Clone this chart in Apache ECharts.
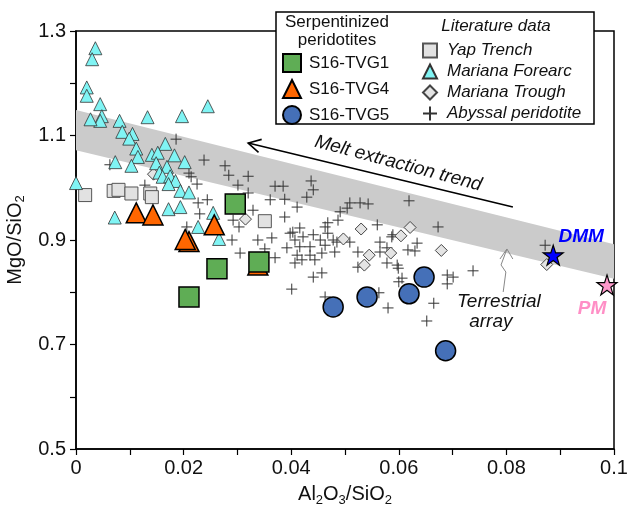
<!DOCTYPE html>
<html>
<head>
<meta charset="utf-8">
<script src="https://cdn.jsdelivr.net/npm/echarts@6/dist/echarts.min.js"></script>
<style>
  html, body { margin: 0; padding: 0; background: #fff; }
  #chart { width: 627px; height: 509px; }
</style>
</head>
<body>
<div id="chart"></div>
<script>
// data (Al2O3/SiO2, MgO/SiO2)
var tvg1 = [[0.0296, 0.969], [0.0340, 0.858], [0.0262, 0.845], [0.0210, 0.791]];
var tvg4 = [[0.0112, 0.952], [0.0143, 0.948], [0.0257, 0.929], [0.0210, 0.897], [0.0203, 0.901], [0.0338, 0.852]];
var tvg5 = [[0.0478, 0.772], [0.0541, 0.791], [0.0619, 0.797], [0.0647, 0.829], [0.0687, 0.688]];

var yapTrench = [[0.0017, 0.986], [0.0070, 0.994], [0.0079, 0.996], [0.0103, 0.989], [0.0138, 0.989], [0.0141, 0.982], [0.0351, 0.936]];

var marianaForearc = [
  [0.0036, 1.267], [0.0030, 1.246], [0.0020, 1.192], [0.0020, 1.176], [0.0045, 1.160],
  [0.0048, 1.137], [0.0045, 1.128], [0.0027, 1.131], [0.0081, 1.128], [0.0133, 1.135],
  [0.0197, 1.137], [0.0245, 1.156], [0.0086, 1.107], [0.0105, 1.103], [0.0099, 1.094],
  [0.0112, 1.075], [0.0115, 1.059], [0.0073, 1.049], [0.0103, 1.042], [0.0166, 1.084],
  [0.0141, 1.063], [0.0152, 1.067], [0.0183, 1.062], [0.0202, 1.049], [0.0149, 1.047],
  [0.0169, 1.040], [0.0155, 1.029], [0.0161, 1.021], [0.0175, 1.022], [0.0185, 1.013],
  [0.0172, 1.007], [0.0194, 0.994], [0.0210, 0.991], [0.0000, 1.009], [0.0072, 0.943],
  [0.0172, 0.959], [0.0194, 0.963], [0.0227, 0.925], [0.0255, 0.952], [0.0266, 0.902]
];

var marianaTrough = [
  [0.0144, 1.026], [0.0315, 0.940], [0.0497, 0.902], [0.0530, 0.921], [0.0604, 0.908],
  [0.0621, 0.924], [0.0545, 0.871], [0.0585, 0.875], [0.0536, 0.852], [0.0679, 0.880],
  [0.0875, 0.853]
];

var abyssal = [
  [0.0063, 1.044], [0.0128, 1.005], [0.0186, 1.093], [0.0238, 1.053], [0.0210, 1.028],
  [0.0214, 1.021], [0.0225, 1.007], [0.0227, 0.971], [0.0244, 0.977], [0.0230, 0.950],
  [0.0206, 0.925], [0.0277, 1.042], [0.0284, 1.024], [0.0320, 1.022], [0.0301, 1.005],
  [0.0320, 0.990], [0.0370, 1.003], [0.0385, 1.003], [0.0437, 1.013], [0.0441, 0.996],
  [0.0429, 0.982], [0.0361, 0.977], [0.0388, 0.978], [0.0411, 0.963], [0.0329, 0.957],
  [0.0292, 0.938], [0.0388, 0.944], [0.0303, 0.925], [0.0290, 0.900], [0.0338, 0.900],
  [0.0364, 0.904], [0.0403, 0.915], [0.0416, 0.923], [0.0422, 0.906], [0.0407, 0.900],
  [0.0441, 0.910], [0.0463, 0.925], [0.0468, 0.913], [0.0305, 0.875], [0.0351, 0.883],
  [0.0370, 0.866], [0.0392, 0.885], [0.0416, 0.887], [0.0411, 0.871], [0.0420, 0.862],
  [0.0435, 0.871], [0.0444, 0.862], [0.0457, 0.875], [0.0481, 0.877], [0.0478, 0.900],
  [0.0463, 0.890], [0.0441, 0.829], [0.0457, 0.837], [0.0401, 0.806], [0.0463, 0.791],
  [0.0491, 0.954], [0.0504, 0.961], [0.0487, 0.938], [0.0468, 0.933], [0.0509, 0.971],
  [0.0528, 0.971], [0.0543, 0.969], [0.0619, 0.975], [0.0560, 0.929], [0.0589, 0.910],
  [0.0673, 0.925], [0.0509, 0.896], [0.0524, 0.877], [0.0565, 0.877], [0.0578, 0.885],
  [0.0617, 0.881], [0.0630, 0.879], [0.0578, 0.856], [0.0599, 0.846], [0.0600, 0.820],
  [0.0563, 0.799], [0.0580, 0.770], [0.0690, 0.833], [0.0701, 0.829], [0.0690, 0.816],
  [0.0738, 0.841], [0.0665, 0.779], [0.0652, 0.745], [0.0524, 0.848], [0.0606, 0.827],
  [0.0872, 0.890], [0.0597, 0.852], [0.0407, 0.856], [0.0398, 0.913], [0.0454, 0.900],
  [0.0485, 0.896], [0.0565, 0.896], [0.0587, 0.906], [0.0634, 0.894], [0.0435, 0.887]
];

var dmm = [[0.0887, 0.871]];
var pm = [[0.0987, 0.814]];

// grey band (terrestrial array), edges at x = 0 and x = 0.1
var bandX = [0, 0.1];
var bandTop = [1.149, 0.892];
var bandBottom = [1.072, 0.826];

// annotations
var meltArrow = [[0.0320, 1.0856], [0.0812, 0.9632]];
var meltLabel = [0.0599, 1.0464];
var terrArrow = [[0.0794, 0.8005], [0.0799, 0.8387], [0.0790, 0.8522], [0.0801, 0.8828]];
var terrHead = [[0.0788, 0.8636], [0.0801, 0.8828], [0.0812, 0.8636]];
var terrLabel1 = [0.0786, 0.7813];
var terrLabel2 = [0.0771, 0.7430];

var FONT = 'Liberation Sans, Arial, sans-serif';
var plusSymbol = 'path://M0,5L10,5M5,0L5,10';
var starSymbol = 'path://M50,2L61.8,38.2L99,38.2L69,60.5L80.3,96.5L50,74.3L19.7,96.5L31,60.5L1,38.2L38.2,38.2Z';

var chart = echarts.init(document.getElementById('chart'));

function renderBand(params, api) {
  var pts = [
    api.coord([bandX[0], bandTop[0]]),
    api.coord([bandX[1], bandTop[1]]),
    api.coord([bandX[1], bandBottom[1]]),
    api.coord([bandX[0], bandBottom[0]])
  ];
  return { type: 'polygon', shape: { points: pts }, style: { fill: '#cbcbcb' } };
}

function renderNotes(params, api) {
  var a = api.coord(meltArrow[0]);
  var b = api.coord(meltArrow[1]);
  var dx = b[0] - a[0], dy = b[1] - a[1];
  var len = Math.sqrt(dx * dx + dy * dy);
  var ux = dx / len, uy = dy / len;
  function side(t) {
    return [a[0] + 14 * (ux * Math.cos(t) - uy * Math.sin(t)),
            a[1] + 14 * (ux * Math.sin(t) + uy * Math.cos(t))];
  }
  var t = api.coord(meltLabel);
  var tl1 = api.coord(terrLabel1);
  var tl2 = api.coord(terrLabel2);
  var tPts = terrArrow.map(function (p) { return api.coord(p); });
  var hPts = terrHead.map(function (p) { return api.coord(p); });
  var txt = { fontFamily: FONT, fontSize: 19, fontStyle: 'italic', fill: '#111', align: 'center', verticalAlign: 'middle' };
  return {
    type: 'group',
    children: [
      { type: 'line', shape: { x1: a[0], y1: a[1], x2: b[0], y2: b[1] }, style: { stroke: '#000', lineWidth: 1.6 } },
      { type: 'polyline', shape: { points: [side(0.5), a, side(-0.5)] }, style: { stroke: '#000', lineWidth: 1.6, fill: null } },
      { type: 'text', x: t[0], y: t[1], rotation: -0.26, style: Object.assign({ text: 'Melt extraction trend' }, txt) },
      { type: 'polyline', shape: { points: tPts }, style: { stroke: '#888', lineWidth: 1, fill: null } },
      { type: 'polyline', shape: { points: hPts }, style: { stroke: '#888', lineWidth: 1, fill: null } },
      { type: 'text', x: tl1[0], y: tl1[1], style: Object.assign({ text: 'Terrestrial' }, txt) },
      { type: 'text', x: tl2[0], y: tl2[1], style: Object.assign({ text: 'array' }, txt) }
    ]
  };
}

var option = {
  animation: false,
  backgroundColor: '#fff',
  textStyle: { fontFamily: FONT },
  grid: {
    left: 76, right: 13, top: 31, bottom: 60, containLabel: false, outerBoundsMode: 'none',
    show: true, borderColor: '#000', borderWidth: 1.5
  },
  xAxis: {
    type: 'value', min: 0, max: 0.1, interval: 0.01,
    name: 'Al{s|2}O{s|3}/SiO{s|2}', nameLocation: 'middle', nameGap: 33,
    nameTextStyle: { fontFamily: FONT, fontSize: 20, color: '#111', lineHeight: 24,
      rich: { s: { fontFamily: FONT, fontSize: 13, lineHeight: 12, verticalAlign: 'bottom', color: '#111' } } },
    axisLine: { lineStyle: { color: '#000', width: 1.5 } },
    axisTick: { inside: false, length: 6, lineStyle: { color: '#000', width: 1.2 } },
    splitLine: { show: false },
    axisLabel: {
      interval: 0, margin: 9, fontFamily: FONT, fontSize: 20, color: '#111',
      formatter: function (v) {
        var n = Math.round(v * 100);
        if (n % 2) return '';
        return n === 0 ? '0' : String(parseFloat((n / 100).toFixed(2)));
      }
    }
  },
  yAxis: {
    type: 'value', min: 0.5, max: 1.3, interval: 0.1,
    name: 'MgO/SiO{s|2}', nameLocation: 'middle', nameGap: 40, nameRotate: 90,
    nameTextStyle: { fontFamily: FONT, fontSize: 20, color: '#111', lineHeight: 24,
      rich: { s: { fontFamily: FONT, fontSize: 13, lineHeight: 12, verticalAlign: 'bottom', color: '#111' } } },
    axisLine: { show: true, lineStyle: { color: '#000', width: 1.5 } },
    axisTick: { show: true, inside: false, length: 6, lineStyle: { color: '#000', width: 1.2 } },
    splitLine: { show: false },
    axisLabel: {
      interval: 0, margin: 10, fontFamily: FONT, fontSize: 20, color: '#111',
      formatter: function (v) {
        var n = Math.round(v * 10);
        return n % 2 ? (n / 10).toFixed(1) : '';
      }
    }
  },
  legend: [
    {
      data: ['S16-TVG1', 'S16-TVG4', 'S16-TVG5'],
      orient: 'vertical', left: 282, top: 53, padding: 0, z: 20,
      itemWidth: 18, itemHeight: 18, itemGap: 6, selectedMode: false,
      textStyle: { fontFamily: FONT, fontSize: 17, color: '#111', padding: [0, 0, 0, 3] }
    },
    {
      data: ['Yap Trench', 'Mariana Forearc', 'Mariana Trough', 'Abyssal peridotite'],
      orient: 'vertical', left: 422, top: 42, padding: 0, z: 20,
      itemWidth: 14, itemHeight: 14, itemGap: 4, selectedMode: false,
      textStyle: { fontFamily: FONT, fontSize: 17, fontStyle: 'italic', color: '#111', padding: [0, 0, 0, 5] }
    }
  ],
  graphic: [
    { type: 'rect', z: 10, shape: { x: 276, y: 12, width: 318, height: 112 },
      style: { fill: '#fff', stroke: '#000', lineWidth: 1.5 } },
    { type: 'text', z: 20, x: 337, y: 22, style: { text: 'Serpentinized', fontFamily: FONT, fontSize: 17, fill: '#111', align: 'center', verticalAlign: 'middle' } },
    { type: 'text', z: 20, x: 337, y: 40, style: { text: 'peridotites', fontFamily: FONT, fontSize: 17, fill: '#111', align: 'center', verticalAlign: 'middle' } },
    { type: 'text', z: 20, x: 496, y: 26, style: { text: 'Literature data', fontFamily: FONT, fontSize: 17, fontStyle: 'italic', fill: '#111', align: 'center', verticalAlign: 'middle' } }
  ],
  series: [
    { type: 'custom', name: 'band', z: 1, silent: true, data: [[0, 0]], renderItem: renderBand },
    {
      type: 'scatter', name: 'Abyssal peridotite', z: 2, data: abyssal,
      symbol: plusSymbol, symbolSize: 11,
      itemStyle: { color: '#333', borderColor: '#333', borderWidth: 1, opacity: 1 }
    },
    {
      type: 'scatter', name: 'Mariana Trough', z: 2, data: marianaTrough,
      symbol: 'diamond', symbolSize: 12,
      itemStyle: { color: '#e4e4e4', borderColor: '#444', borderWidth: 1, opacity: 1 }
    },
    {
      type: 'scatter', name: 'Yap Trench', z: 2, data: yapTrench,
      symbol: 'rect', symbolSize: 13,
      itemStyle: { color: '#e2e2e2', borderColor: '#555', borderWidth: 1, opacity: 1 }
    },
    {
      type: 'scatter', name: 'Mariana Forearc', z: 2, data: marianaForearc,
      symbol: 'triangle', symbolSize: 13,
      itemStyle: { color: '#80f4f4', borderColor: '#333', borderWidth: 0.8, opacity: 1 }
    },
    {
      type: 'scatter', name: 'S16-TVG5', z: 3, data: tvg5,
      symbol: 'circle', symbolSize: 20,
      itemStyle: { color: '#4570b8', borderColor: '#000', borderWidth: 1.5, opacity: 1 }
    },
    {
      type: 'scatter', name: 'S16-TVG4', z: 3, data: tvg4,
      symbol: 'triangle', symbolSize: 20,
      itemStyle: { color: '#ff6600', borderColor: '#000', borderWidth: 1.5, opacity: 1 }
    },
    {
      type: 'scatter', name: 'S16-TVG1', z: 3, data: tvg1,
      symbol: 'rect', symbolSize: 20,
      itemStyle: { color: '#5fad55', borderColor: '#000', borderWidth: 1.5, opacity: 1 }
    },
    {
      type: 'scatter', name: 'DMM', z: 4, data: dmm,
      symbol: starSymbol, symbolSize: 20,
      itemStyle: { color: '#0000ff', borderColor: '#000', borderWidth: 1.2, opacity: 1 },
      label: { show: true, formatter: 'DMM', position: 'top', offset: [28, 7],
        fontFamily: FONT, fontSize: 19, fontWeight: 'bold', fontStyle: 'italic', color: '#0000ff' }
    },
    {
      type: 'scatter', name: 'PM', z: 4, data: pm,
      symbol: starSymbol, symbolSize: 20,
      itemStyle: { color: '#ff99cc', borderColor: '#000', borderWidth: 1.2, opacity: 1 },
      label: { show: true, formatter: 'PM', position: 'bottom', offset: [-15, -1],
        fontFamily: FONT, fontSize: 19, fontWeight: 'bold', fontStyle: 'italic', color: '#ff8fc6' }
    },
    { type: 'custom', name: 'notes', z: 5, silent: true, data: [[0, 0]], renderItem: renderNotes }
  ]
};

chart.setOption(option);
</script>
</body>
</html>
